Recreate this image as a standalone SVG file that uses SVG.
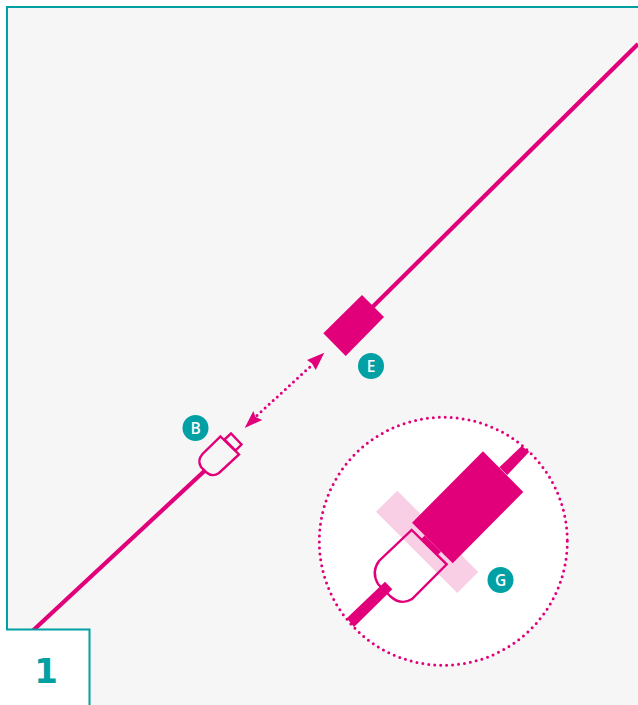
<svg xmlns="http://www.w3.org/2000/svg" width="638" height="705" viewBox="0 0 638 705">
<style>
.m{fill:#e2007a}
.wire{stroke:#e2007a;fill:none;stroke-width:4.200}
.plug{stroke:#e2007a;stroke-width:2.400;fill:none;stroke-linejoin:miter}
.dots{stroke:#e2007a;stroke-width:3;fill:none;stroke-linecap:round}
.badge{fill:#00a0a4}
.bt{font-family:"Open Sans","Noto Sans",sans-serif;font-weight:600;font-size:15.500px;fill:#fff;text-anchor:middle}
.frame{stroke:#00a0a4;stroke-width:2;fill:none}
</style>
<rect width="638" height="705" fill="#fff"/>
<rect x="7" y="7" width="631" height="698" fill="#f6f6f6"/>
<path class="frame" d="M7 630V7H638"/>
<g id="connectors">
<path class="wire" d="M373 306.500L638 44"/>
<path class="wire" d="M33 630.500L205.500 470"/>
<path class="dots" d="M257 415.500L312 365" stroke-dasharray="0 5.500"/>
<path class="m" d="M244.700 428L253.300 411L255.500 417L262.300 420Z"/>
<path class="m" d="M324.300 352.700L307 360L312 363.500L315.700 370Z"/>
</g>
<g id="node-E">
<path class="m" d="M362 295L384 317L345.700 356L323.300 333.300Z"/>
<circle class="badge" cx="371" cy="366" r="13"/>
<text class="bt" x="371" y="371.500">E</text>
</g>
<g id="node-B">
<circle class="badge" cx="195.500" cy="428" r="13"/>
<text class="bt" x="195.500" y="433.500">B</text>
<path class="plug" d="M220.500 436.500L239 454.500L219 473Q212.500 477.500 206.500 472.500L201 467Q197 460.500 202.500 454Z"/>
<path class="plug" d="M224.500 439.500L231 433.500L241.500 444.500L235.500 450.500Z"/>
</g>
<g id="node-G">
<circle cx="443.300" cy="541.300" r="124" fill="#fff"/>
<circle class="dots" cx="443.300" cy="541.300" r="124" stroke-dasharray="0 5.980"/>
<path d="M397.300 490.700L376 511.700L457.300 593L478.300 572Z" fill="#f9cfe6"/>
<path class="m" d="M499.300 467.300L507.300 475L529.300 451.700L521.700 446Z"/>
<path class="m" d="M483 451.300L523.300 492L452.700 563.300L412 522.700Z"/>
<path d="M411.700 530L446.700 564.300L412 599Q401 606 390 596L378 584Q371 572 379 561Z" fill="none" stroke="#e2007a" stroke-width="2.400"/>
<path class="m" d="M420.900 539.200L424.700 535.400L441 551.700L437.200 555.500Z"/>
<path class="m" d="M346.700 618.300L354 627L392.300 589.300L385 581.700Z"/>
<circle class="badge" cx="500.500" cy="580" r="13"/>
<text class="bt" x="500.500" y="585.500">G</text>
</g>
<g id="node-1">
<path d="M0 630H89.500V705H0Z" fill="#fff"/>
<path class="frame" d="M6 629.500H89.500V705"/>
<text x="46" y="683" font-family="DejaVu Sans,sans-serif" font-size="34" font-weight="700" fill="#00a0a4" text-anchor="middle">1</text>
</g>
</svg>
